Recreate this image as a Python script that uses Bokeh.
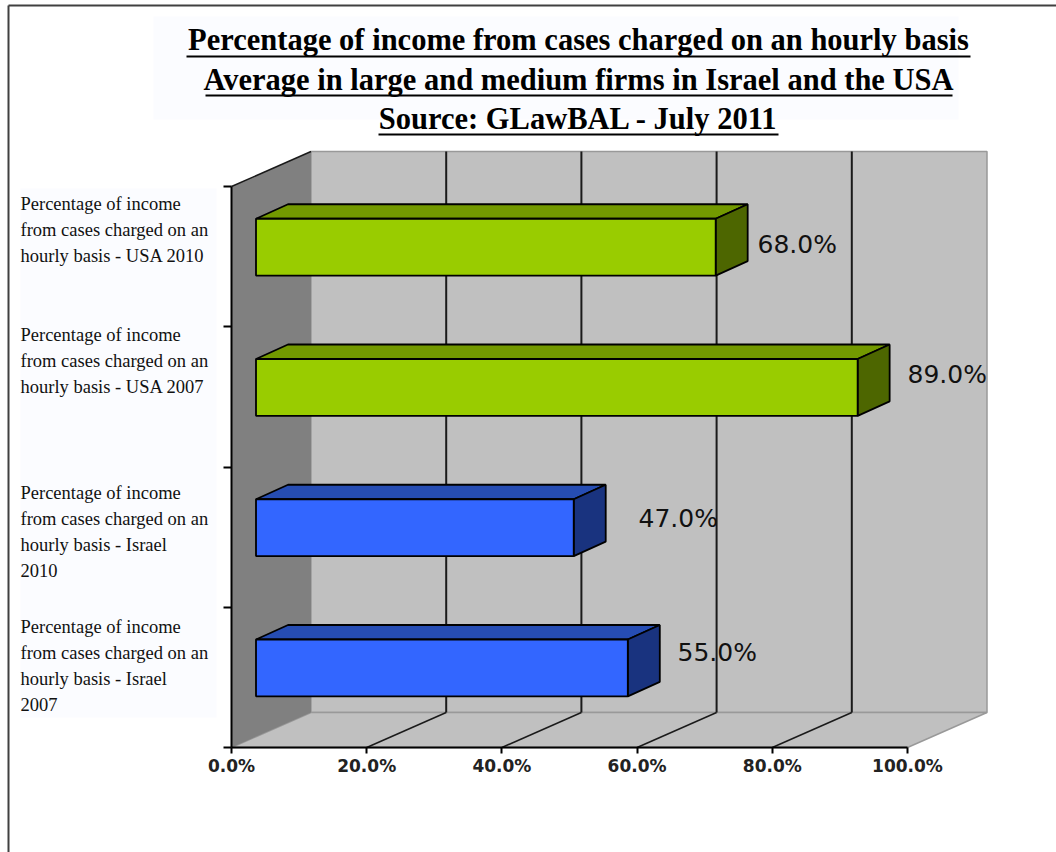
from bokeh.plotting import figure
from bokeh.models import FixedTicker, PrintfTickFormatter, Range1d
from bokeh.core.properties import value
from bokeh.embed import file_html
from bokeh.resources import INLINE

# ---- data ----
title_lines = ["Percentage of income from cases charged on an hourly basis",
               "Average in large and medium firms in Israel and the USA",
               "Source: GLawBAL - July 2011"]
categories = ["Percentage of income\nfrom cases charged on an\nhourly basis - Israel\n2007",
              "Percentage of income\nfrom cases charged on an\nhourly basis - Israel\n2010",
              "Percentage of income\nfrom cases charged on an\nhourly basis - USA 2007",
              "Percentage of income\nfrom cases charged on an\nhourly basis - USA 2010"]
values = [55.0, 47.0, 89.0, 68.0]
x_ticks = [0, 20, 40, 60, 80, 100]
value_labels = ["55.0%", "47.0%", "89.0%", "68.0%"]

# ---- layout ----
W, H = 1056, 852
PX_X = 6.76      # px per percent
PX_Y = 140.25    # px per category band
X0, Y0 = 231, 747  # px of the origin
def ux(px): return (px - X0) / PX_X
def uy(px): return (Y0 - px) / PX_Y

FLOOR_DX, FLOOR_DY = 79.5 / PX_X, 35 / PX_Y
BAR_X0 = 24.5 / PX_X
BAR_DX, BAR_DY = 32 / PX_X, 14.5 / PX_Y
BAR_LOW, BAR_HIGH = 0.365, 0.77
n = len(categories)
xmax, ymax = x_ticks[-1], n

GREEN = ("#99cc00", "#739900", "#4d6600")
BLUE = ("#3366ff", "#264db3", "#19337f")
bar_colors = [BLUE, BLUE, GREEN, GREEN]
label_px_x = [677, 638, 907, 757]
label_px_y = [652, 518, 374, 244]
cat_px_top = [616, 482, 324, 193]

p = figure(width=W, height=H, output_backend="svg", toolbar_location=None,
           x_range=Range1d(ux(0), ux(W)), y_range=Range1d(uy(H), uy(0)),
           min_border=0, outline_line_color=None, background_fill_color="white",
           border_fill_color="white")
p.grid.visible = False

# page frame lines
p.segment([ux(8)], [uy(5)], [ux(W)], [uy(5)], line_color="#404040", line_width=2)
p.segment([ux(8)], [uy(5)], [ux(8)], [uy(H)], line_color="#404040", line_width=2)

# title and label backgrounds
p.quad(left=[ux(153)], right=[ux(958)], top=[uy(16)], bottom=[uy(119)],
       fill_color="#fbfcff", line_color=None)
p.quad(left=[ux(20)], right=[ux(216)], top=[uy(188)], bottom=[uy(717)],
       fill_color="#fbfcff", line_color=None)

# 3D box: back wall, floor, left wall
p.patch([FLOOR_DX, xmax + FLOOR_DX, xmax + FLOOR_DX, FLOOR_DX],
        [FLOOR_DY, FLOOR_DY, ymax + FLOOR_DY, ymax + FLOOR_DY],
        fill_color="#c0c0c0", line_color="#999999", line_width=1.5)
p.patch([0, xmax, xmax + FLOOR_DX, FLOOR_DX], [0, 0, FLOOR_DY, FLOOR_DY],
        fill_color="#c0c0c0", line_color="#999999", line_width=1.5)
p.patch([0, FLOOR_DX, FLOOR_DX, 0], [0, FLOOR_DY, ymax + FLOOR_DY, ymax],
        fill_color="#808080", line_color=None)

# gridlines on the back wall and floor
inner = x_ticks[1:-1]
p.segment([t + FLOOR_DX for t in inner], [FLOOR_DY] * len(inner),
          [t + FLOOR_DX for t in inner], [ymax + FLOOR_DY] * len(inner),
          line_color="#1a1a1a", line_width=2)
p.segment(inner, [0] * len(inner), [t + FLOOR_DX for t in inner], [FLOOR_DY] * len(inner),
          line_color="#1a1a1a", line_width=1.5)
p.segment([0], [ymax], [FLOOR_DX], [ymax + FLOOR_DY], line_color="#1a1a1a", line_width=1.5)

# bars
for i, (v, cols) in enumerate(zip(values, bar_colors)):
    x0, x1 = BAR_X0, BAR_X0 + v
    y0, y1 = i + BAR_LOW, i + BAR_HIGH
    p.patch([x0, x0 + BAR_DX, x1 + BAR_DX, x1], [y1, y1 + BAR_DY, y1 + BAR_DY, y1],
            fill_color=cols[1], line_color="#000000", line_width=1.8)
    p.patch([x1, x1 + BAR_DX, x1 + BAR_DX, x1], [y0, y0 + BAR_DY, y1 + BAR_DY, y1],
            fill_color=cols[2], line_color="#000000", line_width=1.8)
    p.quad(left=[x0], right=[x1], bottom=[y0], top=[y1],
           fill_color=cols[0], line_color="#000000", line_width=1.8)

# value labels
p.text([ux(a) for a in label_px_x], [uy(b) for b in label_px_y], text=value_labels,
       text_font=value("DejaVu Sans"), text_font_size="25px", text_color="#111111",
       text_align="left", text_baseline="middle")

# category labels
p.text([ux(20)] * n, [uy(t) for t in cat_px_top], text=categories,
       text_font=value("Liberation Serif"), text_font_size="18.5px", text_color="#111111",
       text_align="left", text_baseline="top", text_line_height=1.3)

# title
title_y = [39, 79, 118]
p.text([ux(578)] * 3, [uy(t) for t in title_y], text=title_lines,
       text_font=value("Liberation Serif"), text_font_size="30.5px", text_font_style="bold",
       text_color="#000000", text_align="center", text_baseline="middle")
ul_x0, ul_x1, ul_y = [186, 205, 378], [970, 952, 778], [56, 95, 134]
p.segment([ux(a) for a in ul_x0], [uy(c) for c in ul_y],
          [ux(b) for b in ul_x1], [uy(c) for c in ul_y], line_color="#000000", line_width=2)

# axes
xa = p.xaxis[0]
xa.fixed_location = 0
xa.bounds = (x_ticks[0], x_ticks[-1])
xa.ticker = FixedTicker(ticks=x_ticks)
xa.formatter = PrintfTickFormatter(format="%.1f%%")
xa.axis_line_color = "#000000"
xa.axis_line_width = 2
xa.major_tick_line_color = "#000000"
xa.major_tick_line_width = 2
xa.major_tick_in = 0
xa.major_tick_out = 6
xa.minor_tick_line_color = None
xa.major_label_standoff = 2
xa.major_label_text_font = "DejaVu Sans"
xa.major_label_text_font_size = "17px"
xa.major_label_text_font_style = "bold"
xa.major_label_text_color = "#222222"

ya = p.yaxis[0]
ya.fixed_location = 0
ya.bounds = (0, n)
ya.ticker = FixedTicker(ticks=list(range(n + 1)))
ya.major_label_overrides = {i: "" for i in range(n + 1)}
ya.axis_line_color = "#000000"
ya.axis_line_width = 2
ya.major_tick_line_color = "#000000"
ya.major_tick_line_width = 2
ya.major_tick_in = 0
ya.major_tick_out = 8
ya.minor_tick_line_color = None

open("out.html", "w").write(file_html(p, INLINE))
